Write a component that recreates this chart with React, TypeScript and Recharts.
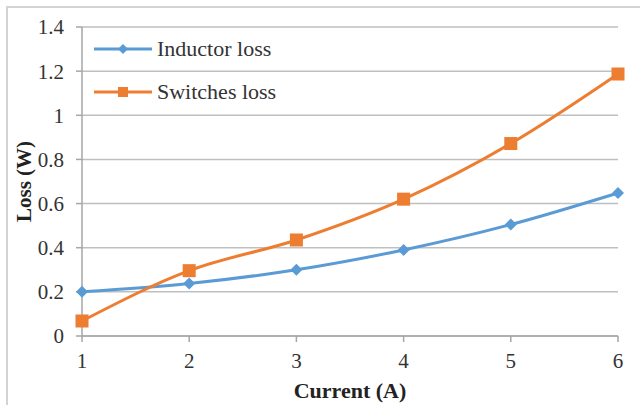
import React from 'react';
import { LineChart, Line, XAxis, YAxis, CartesianGrid } from 'recharts';

const currents = [1, 2, 3, 4, 5, 6];
const inductorLoss = [0.2, 0.238, 0.3, 0.39, 0.505, 0.648];
const switchesLoss = [0.068, 0.296, 0.435, 0.62, 0.872, 1.187];
const yTicks = [0, 0.2, 0.4, 0.6, 0.8, 1, 1.2, 1.4];

const BLUE = '#5B9BD5';
const ORANGE = '#ED7D31';
const FONT = '"Liberation Serif", "Times New Roman", serif';

const data = currents.map((c, i) => ({
  current: c,
  inductor: inductorLoss[i],
  switches: switchesLoss[i],
}));

const DiamondDot = (props: any) => {
  const { cx, cy } = props;
  if (cx == null || cy == null) return null;
  const r = 6;
  return (
    <path
      d={`M${cx},${cy - r} L${cx + r},${cy} L${cx},${cy + r} L${cx - r},${cy} Z`}
      fill={BLUE}
    />
  );
};

const SquareDot = (props: any) => {
  const { cx, cy } = props;
  if (cx == null || cy == null) return null;
  const s = 13;
  return <rect x={cx - s / 2} y={cy - s / 2} width={s} height={s} fill={ORANGE} />;
};

// legend drawn as an overlay so it doesn't eat plot space
const LegendBox = () => {
  const rows = [
    { name: 'Inductor loss', color: BLUE, shape: 'diamond' },
    { name: 'Switches loss', color: ORANGE, shape: 'square' },
  ];
  return (
    <div style={{ position: 'absolute', left: 94, top: 27, fontFamily: FONT, fontSize: 22, color: '#333' }}>
      {rows.map((r) => (
        <div key={r.name} style={{ display: 'flex', alignItems: 'center', height: 43 }}>
          <svg width={60} height={16} style={{ marginRight: 3 }}>
            <line x1={0} y1={8} x2={58} y2={8} stroke={r.color} strokeWidth={3} />
            {r.shape === 'diamond' ? (
              <path d="M29,3 L34,8 L29,13 L24,8 Z" fill={r.color} />
            ) : (
              <rect x={24} y={3} width={10} height={10} fill={r.color} />
            )}
          </svg>
          <span>{r.name}</span>
        </div>
      ))}
    </div>
  );
};

const App: React.FC = () => {
  return (
    <div style={{ position: 'absolute', left: 0, top: 0, width: 640, height: 405, background: '#fff', overflow: 'hidden' }}>
      <div
        style={{
          position: 'absolute',
          left: 6,
          top: 6,
          width: 640,
          height: 410,
          border: '2px solid #d4d4d4',
          boxSizing: 'border-box',
        }}
      />
      <div style={{ position: 'absolute', left: 0, top: 0 }}>
        <LineChart
          width={640}
          height={405}
          data={data}
          margin={{ top: 27, right: 22, bottom: 0, left: 0 }}
          style={{ fontFamily: FONT }}
        >
          <CartesianGrid vertical={false} stroke="#bfbfbf" strokeWidth={1.5} />
          <XAxis
            dataKey="current"
            type="number"
            domain={[1, 6]}
            ticks={currents}
            height={69}
            stroke="#a6a6a6"
            strokeWidth={1.5}
            tickSize={6}
            tickMargin={11}
            tick={{ fill: '#333', fontSize: 21, fontFamily: FONT }}
            label={{
              value: 'Current (A)',
              position: 'insideBottom',
              offset: 7,
              style: { fill: '#222', fontSize: 22, fontWeight: 'bold', fontFamily: FONT },
            }}
          />
          <YAxis
            type="number"
            domain={[0, 1.4]}
            ticks={yTicks}
            width={82}
            stroke="#a6a6a6"
            strokeWidth={1.5}
            tickSize={6}
            tickMargin={12}
            tick={{ fill: '#333', fontSize: 21, fontFamily: FONT }}
            label={{
              content: (p: any) => {
                const vb = p.viewBox || { x: 0, y: 27, width: 82, height: 309 };
                const cx = vb.x + 24;
                const cy = vb.y + vb.height / 2;
                return (
                  <text
                    x={cx}
                    y={cy}
                    transform={`rotate(-90 ${cx} ${cy})`}
                    textAnchor="middle"
                    dominantBaseline="central"
                    fill="#222"
                    fontSize={21}
                    fontWeight="bold"
                    fontFamily={FONT}
                  >
                    Loss (W)
                  </text>
                );
              },
            }}
          />
          <Line
            type="monotone"
            dataKey="inductor"
            name="Inductor loss"
            stroke={BLUE}
            strokeWidth={3}
            dot={<DiamondDot />}
            activeDot={false}
            isAnimationActive={false}
          />
          <Line
            type="monotone"
            dataKey="switches"
            name="Switches loss"
            stroke={ORANGE}
            strokeWidth={3}
            dot={<SquareDot />}
            activeDot={false}
            isAnimationActive={false}
          />
        </LineChart>
      </div>
      <LegendBox />
    </div>
  );
};

export default App;
